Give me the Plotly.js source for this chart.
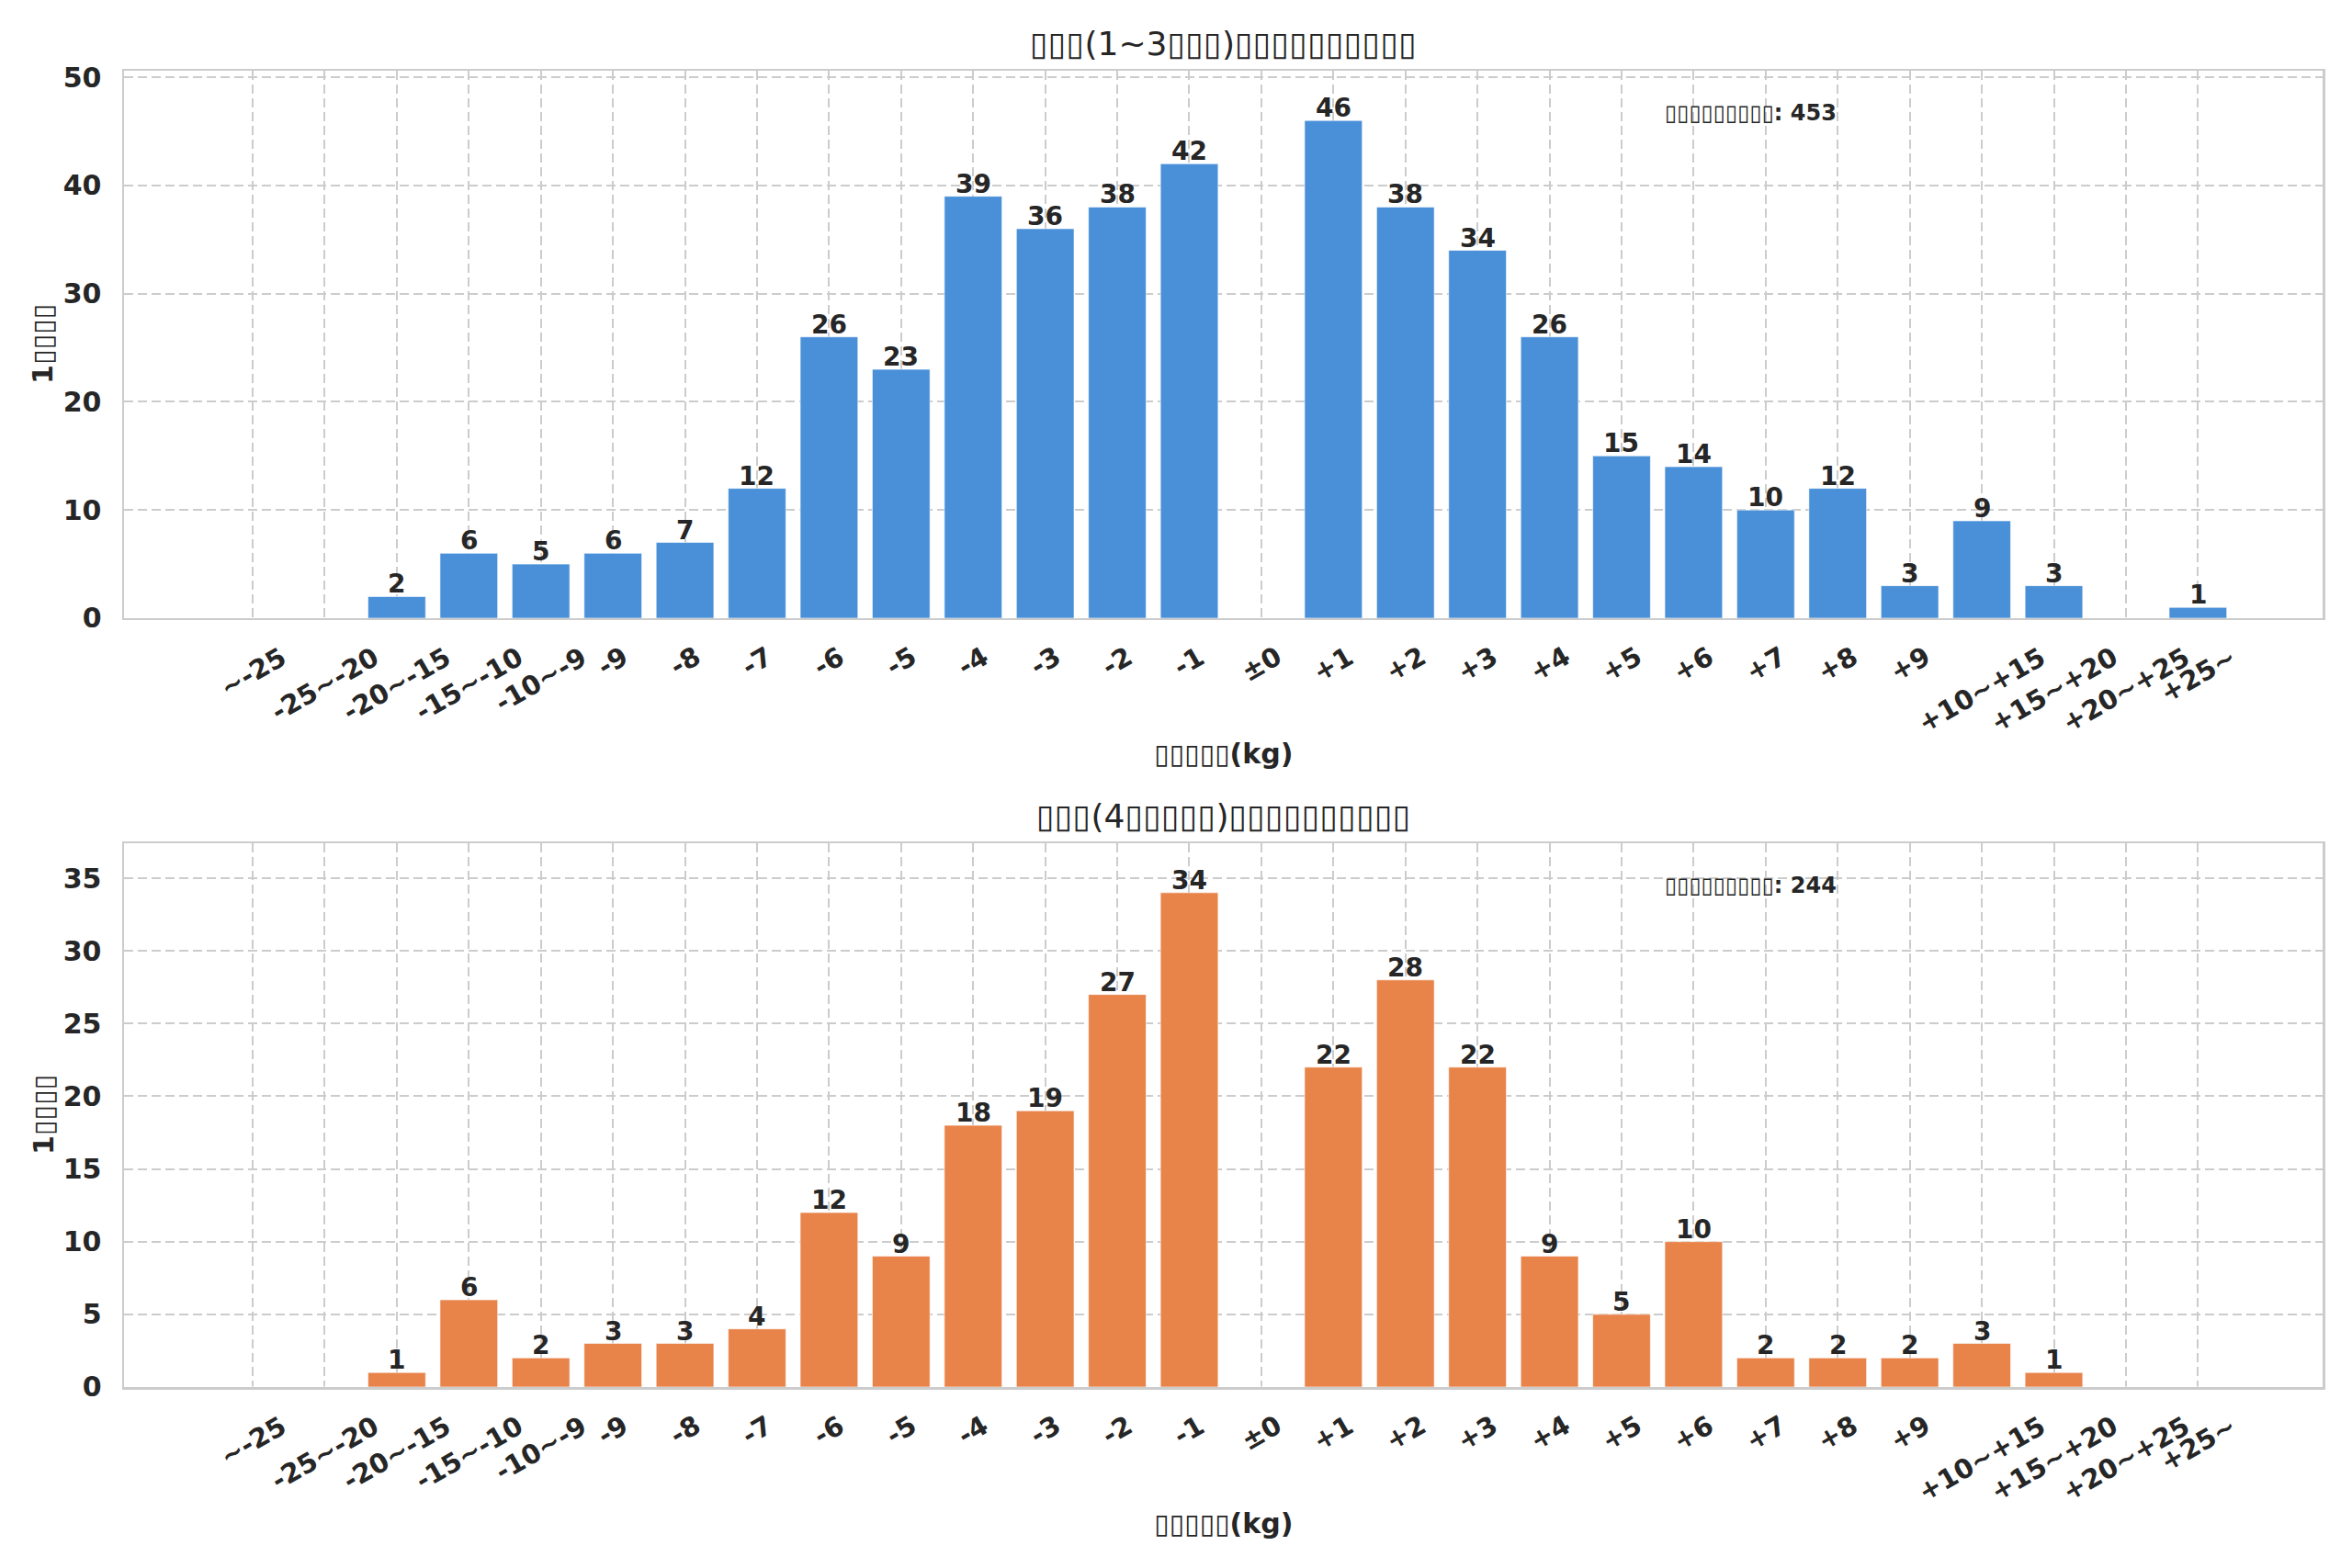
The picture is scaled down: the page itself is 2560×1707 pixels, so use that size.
<!DOCTYPE html>
<html>
<head>
<meta charset="utf-8">
<script src="https://cdn.plot.ly/plotly-3.0.1.min.js"></script>
<style>
  html, body { margin: 0; padding: 0; background: #fff; }
  #chart { width: 2560px; height: 1707px; }
</style>
</head>
<body>
<div id="chart"></div>
<script>
// weight change bins (kg)
var categories = ['~-25', '-25~-20', '-20~-15', '-15~-10', '-10~-9', '-9', '-8', '-7', '-6', '-5',
  '-4', '-3', '-2', '-1', '±0', '+1', '+2', '+3', '+4', '+5', '+6', '+7', '+8', '+9',
  '+10~+15', '+15~+20', '+20~+25', '+25~'];
var shortCounts = [0, 0, 2, 6, 5, 6, 7, 12, 26, 23, 39, 36, 38, 42, 0, 46, 38, 34, 26, 15, 14, 10, 12, 3, 9, 3, 0, 1];
var longCounts = [0, 0, 1, 6, 2, 3, 3, 4, 12, 9, 18, 19, 27, 34, 0, 22, 28, 22, 9, 5, 10, 2, 2, 2, 3, 1, 0, 0];

var shortTitle = '▯▯▯(1~3▯▯▯)▯▯▯▯▯▯▯▯▯▯';
var longTitle = '▯▯▯(4▯▯▯▯▯)▯▯▯▯▯▯▯▯▯▯';
var xLabel = '▯▯▯▯▯(kg)';
var yLabel = '1▯▯▯▯';
var totalLabel = '▯▯▯▯▯▯▯▯▯';

var FONT = 'DejaVu Sans, Liberation Sans, sans-serif';
var INK = '#262626';

function sum(a) { return a.reduce(function (s, v) { return s + v; }, 0); }

function barTrace(vals, color, xa, ya) {
  return {
    type: 'bar',
    x: categories,
    y: vals,
    xaxis: xa,
    yaxis: ya,
    width: 0.8,
    marker: { color: color, line: { color: 'rgba(255,255,255,0.6)', width: 1 } },
    hoverinfo: 'none'
  };
}

var data = [
  barTrace(shortCounts, '#4A90D9', 'x', 'y'),
  barTrace(longCounts, '#E8834A', 'x2', 'y2')
];

function xAxis(anchor) {
  return {
    anchor: anchor,
    domain: [0, 1],
    type: 'category',
    range: [-1.786, 28.73],
    showticklabels: false,
    ticks: '',
    showgrid: true,
    gridcolor: '#cccccc',
    gridwidth: 2,
    griddash: '10px,5px',
    showline: true,
    mirror: true,
    linecolor: '#cccccc',
    linewidth: 2.5,
    zeroline: false
  };
}

function yAxis(anchor, domain, max, step) {
  return {
    anchor: anchor,
    domain: domain,
    range: [0, max * 1.1],
    dtick: step,
    tick0: 0,
    ticks: '',
    ticklabelstandoff: 16,
    tickfont: { family: FONT, size: 30, color: INK, weight: 'bold' },
    showgrid: true,
    gridcolor: '#cccccc',
    gridwidth: 2,
    griddash: '10px,5px',
    showline: true,
    mirror: true,
    linecolor: '#cccccc',
    linewidth: 2.5,
    zeroline: false
  };
}

var annotations = [];
function panelText(xr, yr, title, vals) {
  var xd = xr + ' domain', yd = yr + ' domain';
  annotations.push({
    xref: xd, yref: yd, x: 0.5, y: 1, yshift: 30, xanchor: 'center', yanchor: 'middle',
    text: title, showarrow: false,
    font: { family: FONT, size: 36, color: INK }
  });
  annotations.push({
    xref: xd, yref: yd, x: 0.5, y: 0, yshift: -148, xanchor: 'center', yanchor: 'middle',
    text: xLabel, showarrow: false,
    font: { family: FONT, size: 30, color: INK, weight: 'bold' }
  });
  annotations.push({
    xref: xd, yref: yd, x: 0, y: 0.5, xshift: -88, xanchor: 'center', yanchor: 'middle',
    text: yLabel, textangle: -90, showarrow: false,
    font: { family: FONT, size: 30, color: INK, weight: 'bold' }
  });
  annotations.push({
    xref: xd, yref: yd, x: 0.7, y: 0.95, xanchor: 'left', yanchor: 'top',
    text: totalLabel + ': ' + sum(vals), showarrow: false,
    font: { family: FONT, size: 24, color: INK, weight: 'bold' }
  });
  categories.forEach(function (c, i) {
    // rotated tick label, centred under its category like matplotlib's rotation=30
    annotations.push({
      xref: xr, yref: yd, x: i, y: 0, yshift: -22, xanchor: 'center', yanchor: 'top',
      text: c, textangle: -30, showarrow: false,
      font: { family: FONT, size: 29, color: INK, weight: 'bold' }
    });
    // value label sitting on top of the bar
    if (vals[i] > 0) {
      annotations.push({
        xref: xr, yref: yr, x: i, y: vals[i], yshift: -5, xanchor: 'center', yanchor: 'bottom',
        text: String(vals[i]), showarrow: false,
        font: { family: FONT, size: 28, color: INK, weight: 'bold' }
      });
    }
  });
}
panelText('x', 'y', shortTitle, shortCounts);
panelText('x2', 'y2', longTitle, longCounts);

var layout = {
  width: 2560,
  height: 1707,
  paper_bgcolor: '#ffffff',
  plot_bgcolor: '#ffffff',
  showlegend: false,
  margin: { l: 135, r: 32, t: 77, b: 197 },
  bargap: 0.2,
  xaxis: xAxis('y'),
  yaxis: yAxis('x', [0.5841, 1], Math.max.apply(null, shortCounts), 10),
  xaxis2: xAxis('y2'),
  yaxis2: yAxis('x2', [0, 0.4131], Math.max.apply(null, longCounts), 5),
  annotations: annotations
};

Plotly.newPlot('chart', data, layout, { staticPlot: true, displayModeBar: false });
</script>
</body>
</html>
